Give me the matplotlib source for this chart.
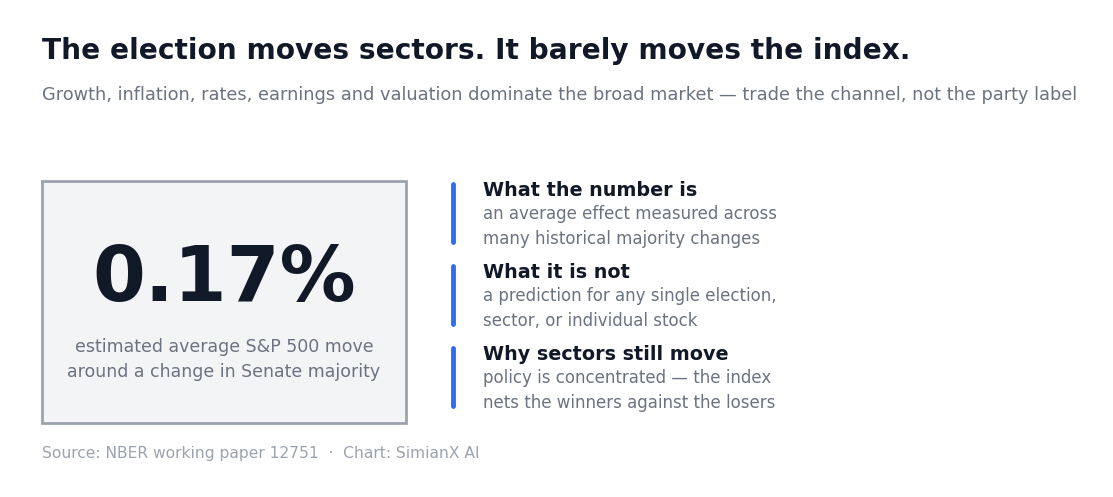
import matplotlib
matplotlib.use("Agg")
import matplotlib.pyplot as plt
from matplotlib.patches import Rectangle

title = "The election moves sectors. It barely moves the index."
subtitle = ("Growth, inflation, rates, earnings and valuation dominate the broad market "
            "\u2014 trade the channel, not the party label")
big_value = 0.17
big_label = ["estimated average S&P 500 move", "around a change in Senate majority"]
headings = ["What the number is", "What it is not", "Why sectors still move"]
bodies = [
    ["an average effect measured across", "many historical majority changes"],
    ["a prediction for any single election,", "sector, or individual stock"],
    ["policy is concentrated \u2014 the index", "nets the winners against the losers"],
]
source = "Source: NBER working paper 12751  \u00b7  Chart: SimianX AI"

dark = "#111827"
grey = "#6b7280"
light = "#9ca3af"
blue = "#2f6fed"

W, H = 1113, 497
fig = plt.figure(figsize=(W / 100, H / 100), dpi=100)
ax = fig.add_axes([0, 0, 1, 1])
ax.set_xlim(0, W)
ax.set_ylim(H, 0)
ax.axis("off")

plt.rcParams["font.family"] = "DejaVu Sans"

ax.text(42, 59, title, fontsize=20.2, fontweight="bold", color=dark, va="baseline")
ax.text(42, 100, subtitle, fontsize=12.8, color=grey, va="baseline")

# stat box
ax.add_patch(Rectangle((42, 181), 364, 242, facecolor="#f3f4f6",
                       edgecolor=light, linewidth=2))
ax.text(224, 301, f"{big_value:.2f}%", fontsize=54.7, fontweight="bold",
        color=dark, ha="center", va="baseline")
for i, line in enumerate(big_label):
    ax.text(224, 352 + i * 25, line, fontsize=12.5, color=grey,
            ha="center", va="baseline")

# notes on the right
for i, (head, body) in enumerate(zip(headings, bodies)):
    y0 = 184 + i * 82
    ax.plot([453, 453], [y0, y0 + 58], color=blue, linewidth=3.5,
            solid_capstyle="round")
    ax.text(483, y0 + 12, head, fontsize=13.8, fontweight="bold", color=dark,
            va="baseline")
    for j, line in enumerate(body):
        ax.text(483, y0 + 35 + j * 25, line, fontsize=11.97, color=grey,
                va="baseline")

ax.text(42, 458, source, fontsize=11.15, color=light, va="baseline")

fig.savefig("out.png", dpi=100, facecolor="white")
